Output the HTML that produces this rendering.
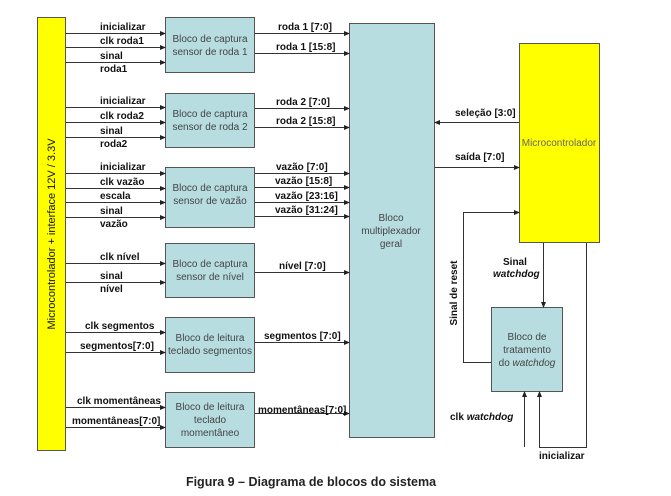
<!DOCTYPE html>
<html><head><meta charset="utf-8"><style>
body{margin:0;background:#fff}
svg{display:block;font-family:"Liberation Sans",Arial,sans-serif}
.l{font-size:10px;font-weight:bold;fill:#111}
.b{font-size:10px;fill:#444;text-anchor:middle}
</style></head><body>
<svg width="671" height="496" viewBox="0 0 671 496" xmlns="http://www.w3.org/2000/svg">
<defs><marker id="a" markerWidth="6" markerHeight="6" refX="5" refY="3" orient="auto" markerUnits="userSpaceOnUse"><path d="M0,0.5 L6,3 L0,5.5z" fill="#222"/></marker></defs>
<g stroke="#555" stroke-width="1">
<rect x="37.5" y="17.5" width="28" height="433" fill="#ffff00"/>
<rect x="165.5" y="17.5" width="89" height="55" fill="#b7dde0"/>
<rect x="165.5" y="93.5" width="89" height="54" fill="#b7dde0"/>
<rect x="165.5" y="167.5" width="89" height="60" fill="#b7dde0"/>
<rect x="165.5" y="243.5" width="89" height="54" fill="#b7dde0"/>
<rect x="165.5" y="317.5" width="89" height="55" fill="#b7dde0"/>
<rect x="165.5" y="392.5" width="89" height="55" fill="#b7dde0"/>
<rect x="349.5" y="23.5" width="85" height="414" fill="#b7dde0"/>
<rect x="519.5" y="43.5" width="80" height="199" fill="#ffff00"/>
<rect x="491.5" y="307.5" width="71" height="84" fill="#b7dde0"/>
</g>
<g stroke="#333" stroke-width="1" fill="none" marker-end="url(#a)">
<path d="M66 33.5H165"/><path d="M66 47.5H165"/><path d="M66 62.5H165"/>
<path d="M66 107.5H165"/><path d="M66 122.5H165"/><path d="M66 137.5H165"/>
<path d="M66 173.5H165"/><path d="M66 188.5H165"/><path d="M66 202.5H165"/><path d="M66 217.5H165"/>
<path d="M66 263.5H165"/><path d="M66 282.5H165"/>
<path d="M66 332.5H165"/><path d="M66 352.5H165"/>
<path d="M66 407.5H165"/><path d="M66 427.5H165"/>
<path d="M255 33.5H349"/><path d="M255 53.5H349"/><path d="M255 108.5H349"/><path d="M255 127.5H349"/>
<path d="M255 173.5H349"/><path d="M255 187.5H349"/><path d="M255 202.5H349"/><path d="M255 216.5H349"/>
<path d="M255 272.5H349"/><path d="M255 342.5H349"/><path d="M255 413.5H349"/>
<path d="M519 122.5H435"/>
<path d="M435 167.5H519"/>
<path d="M491 362.5H463.5V212.5H519"/>
<path d="M543.5 243V307"/>
<path d="M524.5 447V392"/>
<path d="M586.5 243V447.5H539.5V392"/>
</g>
<text class="l" x="100" y="30">inicializar</text>
<text class="l" x="100" y="44">clk roda1</text>
<text class="l" x="100" y="59">sinal</text>
<text class="l" x="100" y="72">roda1</text>
<text class="l" x="100" y="104">inicializar</text>
<text class="l" x="100" y="119">clk roda2</text>
<text class="l" x="100" y="134">sinal</text>
<text class="l" x="100" y="147">roda2</text>
<text class="l" x="100" y="170">inicializar</text>
<text class="l" x="100" y="185">clk vazão</text>
<text class="l" x="100" y="199">escala</text>
<text class="l" x="100" y="214">sinal</text>
<text class="l" x="100" y="227">vazão</text>
<text class="l" x="100" y="260">clk nível</text>
<text class="l" x="100" y="279">sinal</text>
<text class="l" x="100" y="292">nível</text>
<text class="l" x="85" y="329">clk segmentos</text>
<text class="l" x="80" y="349">segmentos[7:0]</text>
<text class="l" x="77" y="404">clk momentâneas</text>
<text class="l" x="72" y="424">momentâneas[7:0]</text>
<text class="l" x="278" y="30">roda 1 [7:0]</text>
<text class="l" x="276" y="50">roda 1 [15:8]</text>
<text class="l" x="276" y="105">roda 2 [7:0]</text>
<text class="l" x="276" y="124">roda 2 [15:8]</text>
<text class="l" x="276" y="170">vazão [7:0]</text>
<text class="l" x="275" y="184">vazão [15:8]</text>
<text class="l" x="275" y="199">vazão [23:16]</text>
<text class="l" x="275" y="213">vazão [31:24]</text>
<text class="l" x="279" y="269">nível [7:0]</text>
<text class="l" x="264" y="339">segmentos [7:0]</text>
<text class="l" x="258" y="413">momentâneas[7:0]</text>
<text class="l" x="455" y="116">seleção [3:0]</text>
<text class="l" x="455" y="160">saída [7:0]</text>
<text class="l" x="503" y="265">Sinal</text>
<text class="l" x="493" y="277" font-style="italic">watchdog</text>
<text class="l" x="450" y="420">clk <tspan font-style="italic">watchdog</tspan></text>
<text class="l" x="539" y="459">inicializar</text>
<text class="l" transform="translate(457,293) rotate(-90)" text-anchor="middle">Sinal de reset</text>
<text class="l" transform="translate(55,234) rotate(-90)" text-anchor="middle" style="font-size:11px;font-weight:normal">Microcontrolador + interface 12V / 3.3V</text>
<text class="b" x="210" y="42">Bloco de captura</text><text class="b" x="210" y="55">sensor de roda 1</text>
<text class="b" x="210" y="117">Bloco de captura</text><text class="b" x="210" y="130">sensor de roda 2</text>
<text class="b" x="210" y="191">Bloco de captura</text><text class="b" x="210" y="204">sensor de vazão</text>
<text class="b" x="210" y="267">Bloco de captura</text><text class="b" x="210" y="280">sensor de nível</text>
<text class="b" x="210" y="341">Bloco de leitura</text><text class="b" x="210" y="354">teclado segmentos</text>
<text class="b" x="210" y="410">Bloco de leitura</text><text class="b" x="210" y="423">teclado</text><text class="b" x="210" y="436">momentâneo</text>
<text class="b" x="391" y="221">Bloco</text><text class="b" x="391" y="234">multiplexador</text><text class="b" x="391" y="247">geral</text>
<text class="b" x="559" y="146" style="fill:#666">Microcontrolador</text>
<text class="b" x="527" y="340">Bloco de</text><text class="b" x="527" y="353">tratamento</text><text class="b" x="527" y="366">do <tspan font-style="italic">watchdog</tspan></text>
<text x="311" y="486" text-anchor="middle" style="font-size:12.5px;font-weight:bold;fill:#222">Figura 9 – Diagrama de blocos do sistema</text>
</svg>
</body></html>
